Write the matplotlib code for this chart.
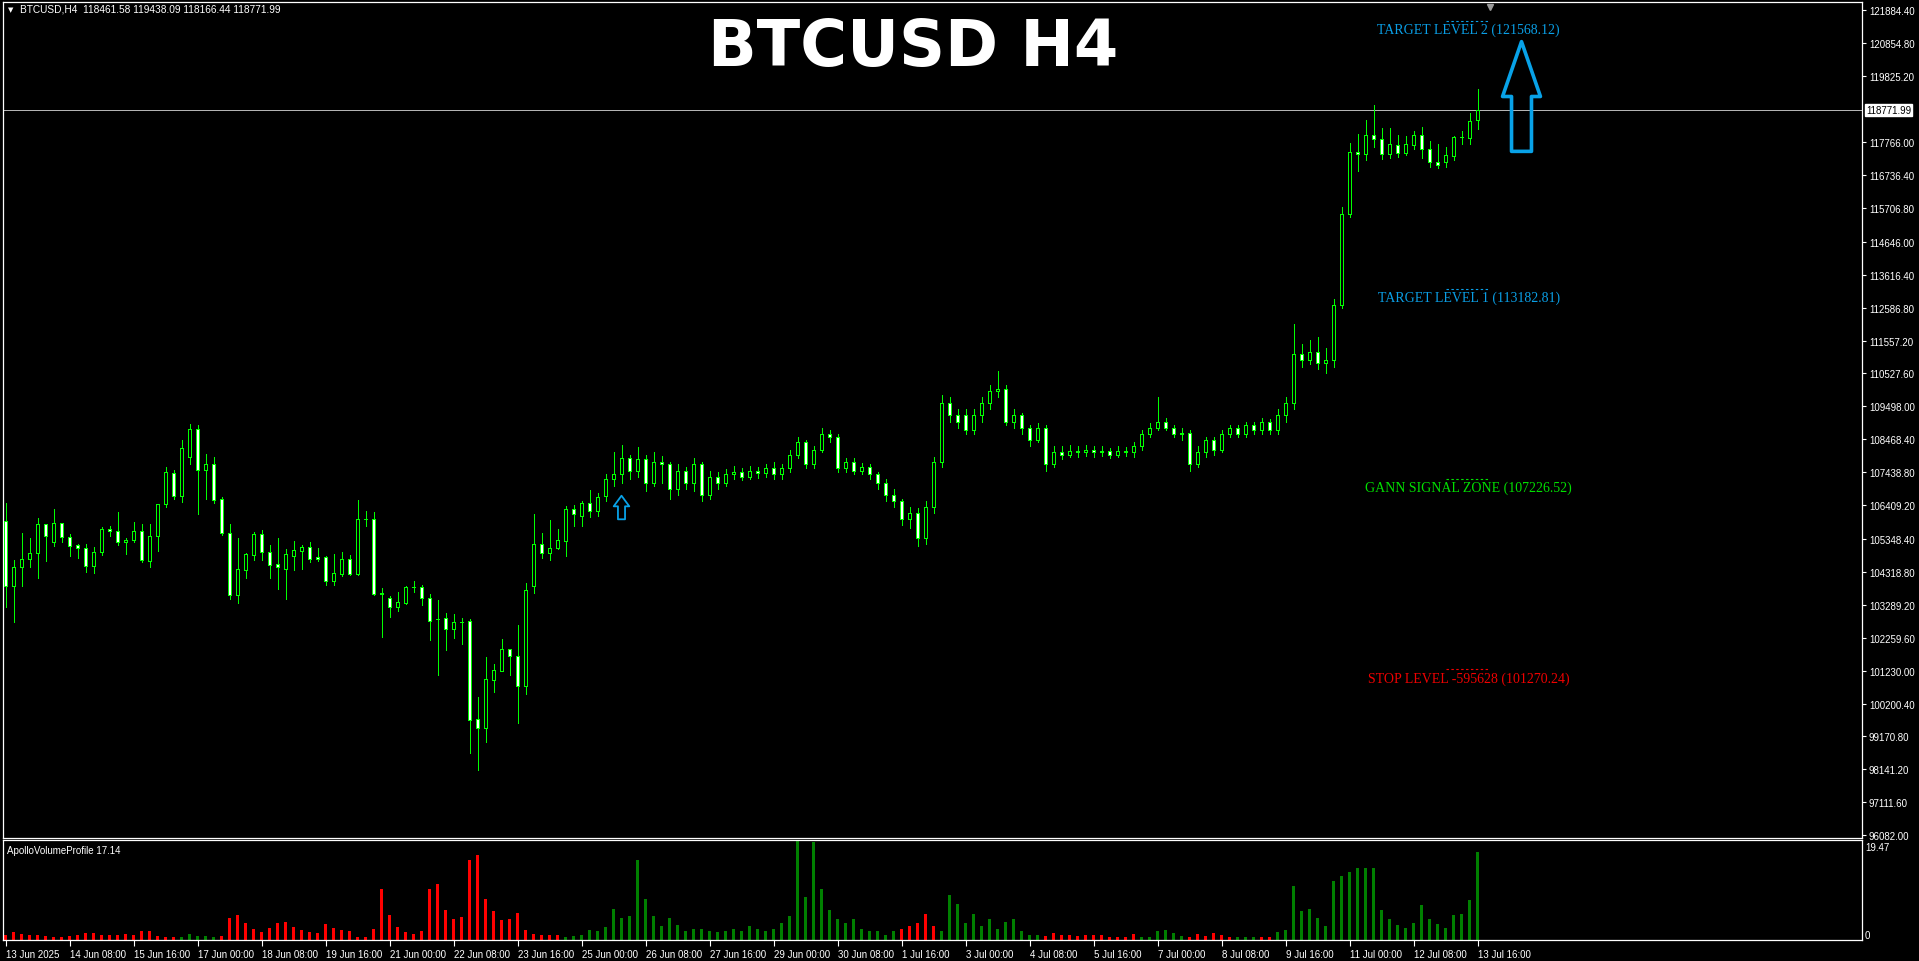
import matplotlib
matplotlib.use("Agg")
import matplotlib.pyplot as plt
from matplotlib.path import Path
from matplotlib.transforms import blended_transform_factory, ScaledTranslation
import numpy as np

W, H, DPI = 1919, 962, 100

# ---------------- data (H4 bars, 13 Jun 2025 00:00 .. 13 Jul 2025 16:00) ----------------
opens = [105916, 103863, 104457, 104738, 104895, 105833, 105239, 105864, 105426, 105155,
         105082, 104509, 104926, 105676, 105603, 105239, 105332, 105603, 104665, 105447,
         106458, 107400, 106698, 107900, 108800, 107500, 107700, 106593, 105551, 103602,
         104384, 104843, 105499, 104957, 104551, 104405, 104822, 104978, 105113, 104770,
         104770, 104019, 104248, 104717, 104248, 105989, 105989, 103644, 103498, 103227,
         103342, 103832, 103832, 103487, 102841, 102862, 102539, 102758, 102768, 99704,
         99443, 100944, 101226, 101892, 101695, 100736, 103883, 105207, 104915, 105061,
         105290, 106302, 106072, 106468, 106229, 106688, 107223, 107376, 107874, 107491,
         107836, 107108, 107759, 107683, 106917, 107491, 107108, 107683, 106726, 107300,
         107108, 107376, 107453, 107300, 107491, 107415, 107568, 107376, 107568, 107989,
         108372, 107683, 108142, 108640, 108525, 107568, 107759, 107491, 107606, 107376,
         107108, 106726, 106535, 105962, 106153, 105388, 106344, 107759, 109597, 109214,
         109214, 108754, 109214, 109597, 109979, 110056, 109023, 109214, 108831, 108449,
         108831, 107683, 108065, 107989, 108104, 108065, 108142, 108065, 108104, 107989,
         108104, 108065, 108257, 108640, 108831, 109023, 108831, 108640, 108680, 107683,
         108065, 108449, 108142, 108640, 108831, 108640, 108908, 108754, 109023, 108754,
         109214, 109597, 111128, 110937, 111204, 110860, 110937, 112659, 115530, 117444,
         117403, 117997, 117872, 117403, 117663, 117434, 117663, 117976, 117559, 117150,
         117150, 117330, 117913, 117903, 118461.58]
highs = [106469, 104686, 105530, 105364, 106020, 105833, 106302, 105864, 105499, 105186,
         105186, 105113, 105728, 105760, 106208, 105364, 105895, 105812, 105833, 106458,
         107600, 107500, 108450, 108950, 108900, 108000, 107900, 106677, 105812, 105395,
         104905, 105572, 105624, 105155, 105364, 105030, 105291, 105155, 105239, 105082,
         104801, 104874, 104926, 104842, 106562, 106229, 106197, 103811, 103571, 103675,
         103884, 104029, 103904, 103623, 103435, 103029, 102998, 102862, 102841, 100392,
         101642, 101434, 102216, 101892, 102664, 103987, 106124, 105551, 105937, 105655,
         106385, 106406, 106531, 106875, 106781, 107376, 108065, 108295, 107989, 108219,
         107989, 108065, 107951, 107759, 107683, 107606, 107874, 107759, 107491, 107453,
         107530, 107644, 107568, 107644, 107606, 107683, 107759, 107683, 108142, 108525,
         108449, 108257, 108831, 108754, 108640, 107874, 107874, 107720, 107683, 107453,
         107223, 106917, 106611, 106344, 106305, 106535, 107912, 109865, 109788, 109405,
         109405, 109405, 109788, 110171, 110592, 110171, 109405, 109290, 108908, 108984,
         108908, 108257, 108257, 108295, 108257, 108295, 108257, 108257, 108180, 108257,
         108219, 108372, 108754, 108984, 109788, 109137, 108908, 108831, 108754, 108257,
         108525, 108525, 108754, 108908, 108908, 109023, 109023, 109137, 109099, 109405,
         109788, 112085, 111434, 111588, 111664, 111319, 112850, 115721, 117750, 118018,
         118445, 118914, 118195, 118195, 117976, 117955, 118101, 118226, 117788, 117694,
         117601, 117945, 118101, 118664, 119438.09]
lows = [103227, 102737, 103863, 104457, 104113, 104665, 105134, 105239, 104821, 104748,
        104321, 104279, 104842, 105447, 105155, 104874, 105239, 104613, 104478, 104978,
        106350, 106614, 106510, 107700, 106124, 106594, 106468, 105468, 103467, 103342,
        104123, 104686, 104686, 104123, 103779, 103467, 104384, 104405, 104613, 104665,
        103904, 103904, 104175, 104217, 104217, 105760, 103592, 102289, 102914, 103092,
        103310, 103675, 103279, 102184, 101090, 101882, 102247, 102059, 98651, 98130,
        99006, 100569, 101226, 101090, 99589, 100496, 103654, 104749, 104686, 105030,
        104822, 105760, 105760, 106041, 106072, 106535, 106994, 107108, 107223, 107300,
        106841, 106994, 107108, 106611, 106726, 106917, 106841, 106535, 106611, 106917,
        106994, 107223, 107185, 107223, 107261, 107300, 107223, 107223, 107453, 107874,
        107568, 107568, 108065, 108372, 107453, 107453, 107376, 107376, 107223, 106917,
        106535, 106344, 105771, 105694, 105120, 105197, 106153, 107606, 109023, 108831,
        108640, 108640, 109023, 109405, 109788, 108908, 108831, 108640, 108257, 108372,
        107491, 107606, 107836, 107912, 107912, 107951, 107912, 107951, 107874, 107912,
        107951, 107912, 108142, 108525, 108754, 108754, 108525, 108449, 107491, 107606,
        107912, 107989, 108065, 108525, 108525, 108525, 108640, 108640, 108640, 108640,
        109023, 109405, 110745, 110822, 110669, 110554, 110745, 112583, 115415, 116870,
        117200, 117622, 117250, 117278, 117300, 117350, 117550, 117278, 117000, 116950,
        117000, 117200, 117694, 117694, 118166.44]
closes = [103863, 104457, 104738, 104895, 105833, 105447, 105864, 105426, 105134, 105082,
          104509, 104926, 105676, 105603, 105239, 105332, 105603, 104697, 105447, 106458,
          107450, 106698, 108200, 108800, 107500, 107700, 106572, 105551, 103602, 104405,
          104874, 105499, 104947, 104540, 104457, 104874, 104999, 105113, 104738, 104738,
          104019, 104269, 104717, 104248, 105989, 105980, 103633, 103633, 103227, 103362,
          103832, 103840, 103487, 102789, 102830, 102539, 102737, 102750, 99693, 99443,
          100965, 101236, 101892, 101695, 100736, 103737, 105207, 104915, 105082, 105311,
          106302, 106135, 106468, 106229, 106677, 107223, 107376, 107874, 107491, 107836,
          107108, 107759, 107683, 106917, 107491, 107108, 107683, 106726, 107300, 107108,
          107376, 107453, 107300, 107491, 107415, 107568, 107376, 107568, 107989, 108372,
          107683, 108142, 108640, 108525, 107568, 107759, 107491, 107606, 107376, 107108,
          106726, 106535, 105962, 106153, 105388, 106344, 107759, 109597, 109214, 109023,
          108754, 109214, 109597, 109979, 110056, 109023, 109214, 108831, 108449, 108831,
          107683, 108065, 107989, 108104, 108065, 108142, 108065, 108104, 107989, 108104,
          108065, 108257, 108640, 108831, 109023, 108831, 108640, 108680, 107683, 108065,
          108449, 108142, 108640, 108831, 108640, 108908, 108754, 109023, 108754, 109214,
          109597, 111128, 110937, 111204, 110860, 110937, 112659, 115530, 117444, 117403,
          117997, 117872, 117403, 117715, 117434, 117715, 117976, 117559, 117150, 117050,
          117351, 117913, 117920, 118434, 118771.99]

volumes = [1.0, 1.6, 1.2, 1.0, 1.0, 0.8, 0.6, 0.6, 0.8, 1.0,
           1.4, 1.4, 1.0, 1.0, 1.0, 1.2, 1.0, 1.8, 1.8, 0.8,
           0.6, 0.6, 0.6, 1.2, 0.8, 0.8, 0.6, 0.8, 4.2, 4.8,
           3.4, 2.2, 1.6, 2.4, 3.4, 3.6, 2.6, 2.0, 1.6, 1.4,
           3.2, 2.4, 2.0, 1.8, 0.6, 0.6, 2.2, 10.0, 4.8, 2.6,
           1.6, 1.2, 1.8, 10.0, 11.0, 5.8, 4.0, 4.4, 15.5, 16.5,
           8.0, 5.6, 3.8, 4.0, 5.2, 2.0, 1.2, 1.0, 1.0, 1.0,
           0.6, 0.8, 1.0, 2.0, 1.8, 2.6, 6.0, 4.2, 4.6, 15.5,
           8.0, 4.6, 2.8, 4.2, 3.0, 1.8, 2.2, 2.2, 1.7, 1.5,
           1.7, 2.2, 1.7, 2.7, 2.2, 1.7, 2.2, 3.4, 4.6, 19.47,
           8.3, 19.0, 10.0, 5.9, 4.1, 3.4, 4.1, 2.2, 1.7, 1.7,
           1.0, 1.7, 2.2, 2.7, 3.4, 5.1, 2.7, 1.7, 8.8, 7.1,
           3.4, 5.1, 2.7, 4.1, 2.2, 3.6, 4.0, 1.8, 1.0, 1.0,
           0.8, 1.4, 1.0, 1.0, 0.8, 1.0, 1.0, 1.0, 0.6, 0.6,
           0.6, 1.2, 0.6, 0.6, 1.8, 2.0, 1.4, 0.8, 0.6, 1.2,
           0.8, 1.4, 1.0, 0.6, 0.6, 0.6, 0.6, 0.6, 0.6, 1.6,
           2.0, 10.6, 5.6, 6.0, 4.2, 2.8, 11.4, 12.4, 13.2, 14.0,
           14.0, 14.0, 5.8, 4.0, 3.0, 2.4, 3.4, 6.8, 4.0, 3.2,
           2.4, 4.8, 5.0, 7.8, 17.14]
# R = red (selling) volume bar, G = green (buying) volume bar
vol_side = ("RRRRRRRRRRRRRRRRRRRRRR" "GGGGG"
            "RRRRRRRRRRRRRRRRRRRRRRRRRRRRRRRRRRRRRRRRRRR"
            "GGGGGGGGGGGGGGGGGGGGGGGGGGGGGGGGGGGGGGGGGG"
            "RRRRR" "GGGGGGGGGGGGG" "RRRRRRRRRRRR" "GGGGGG" "RRRRRR"
            "GGG" "RR" "GGGGGGGGGGGGGGGGGGGGGGGGGG")
vol_scale_max = 19.47
vol_indicator_value = 17.14

x_labels = ["13 Jun 2025", "14 Jun 08:00", "15 Jun 16:00", "17 Jun 00:00", "18 Jun 08:00",
            "19 Jun 16:00", "21 Jun 00:00", "22 Jun 08:00", "23 Jun 16:00", "25 Jun 00:00",
            "26 Jun 08:00", "27 Jun 16:00", "29 Jun 00:00", "30 Jun 08:00", "1 Jul 16:00",
            "3 Jul 00:00", "4 Jul 08:00", "5 Jul 16:00", "7 Jul 00:00", "8 Jul 08:00",
            "9 Jul 16:00", "11 Jul 00:00", "12 Jul 08:00", "13 Jul 16:00"]
x_label_bars = [0, 8, 16, 24, 32, 40, 48, 56, 64, 72, 80, 88, 96, 104, 112, 120,
                128, 136, 144, 152, 160, 168, 176, 184]

price_ticks = [121884.40, 120854.80, 119825.20, 117766.00, 116736.40, 115706.80,
               114646.00, 113616.40, 112586.80, 111557.20, 110527.60, 109498.00,
               108468.40, 107438.80, 106409.20, 105348.40, 104318.80, 103289.20,
               102259.60, 101230.00, 100200.40, 99170.80, 98141.20, 97111.60, 96082.00]
current_price = 118771.99

level_names = ["TARGET LEVEL 2", "TARGET LEVEL 1", "GANN SIGNAL ZONE", "STOP LEVEL -595628"]
level_values = [121568.12, 113182.81, 107226.52, 101270.24]
level_colors = ["#0A9FE6", "#0A9FE6", "#00E000", "#F00000"]

# signal arrows: (bar index, price at arrow centre)
big_arrow_bar, big_arrow_price = 189.4, 119195
small_arrow_bar, small_arrow_price = 76.9, 106343

symbol_header = "BTCUSD,H4  118461.58 119438.09 118166.44 118771.99"
title = "BTCUSD H4"

# ---------------- layout ----------------
def fx(x):
    return x / W

def fy(y):
    return 1 - y / H

fig = plt.figure(figsize=(W / DPI, H / DPI), dpi=DPI, facecolor="black")
AX_L, AX_R = 3, 1862
ax = fig.add_axes([fx(AX_L), fy(839), fx(AX_R - AX_L), (839 - 3) / H], facecolor="black")
axv = fig.add_axes([fx(AX_L), fy(941), fx(AX_R - AX_L), (941 - 841) / H], facecolor="black")

px_per_bar = 8.0
bar0_px = 5.5
xlim = ((AX_L - bar0_px) / px_per_bar, (AX_R - bar0_px) / px_per_bar)

SMALL = "Liberation Sans"
n = len(closes)
x = np.arange(n)
o = np.array(opens, float); h = np.array(highs, float)
l = np.array(lows, float); c = np.array(closes, float)

LIME = "#00FF00"
ax.vlines(x, l, h, colors=LIME, linewidth=0.72, antialiased=False, zorder=2)
bottoms = np.minimum(o, c)
heights = np.abs(c - o)
faces = ["black" if cc >= oo else "white" for oo, cc in zip(o, c)]
ax.bar(x, heights, bottom=bottoms, width=0.42, color=faces, edgecolor=LIME,
       linewidth=0.72, antialiased=False, zorder=3)

ax.set_xlim(*xlim)
ax.set_ylim(95993, 122150)

# current price line + label
ax.axhline(current_price, color="#B4B4B4", linewidth=0.72, zorder=1)
tr_r = blended_transform_factory(ax.transAxes, ax.transData)
ax.text(1.0, current_price, f"{current_price:.2f}", transform=tr_r + ScaledTranslation(4 / DPI, 0, fig.dpi_scale_trans),
        ha="left", va="center", fontsize=7, family=SMALL, color="black",
        bbox=dict(boxstyle="square,pad=0.12", facecolor="white", edgecolor="white"))

# chart shift marker
tr_top = blended_transform_factory(ax.transData, ax.transAxes)
ax.plot([185.6], [0.994], transform=tr_top, marker="v", color="#9A9A9A", markersize=4.5, clip_on=False)

# price axis
ax.yaxis.tick_right()
ax.set_yticks(price_ticks)
ax.set_yticklabels([f"{v:.2f}" for v in price_ticks])
ax.tick_params(axis="y", colors="white", labelcolor="white", length=3, width=0.8,
               pad=2, labelsize=7, direction="out")
for t in ax.get_yticklabels():
    t.set_family(SMALL)
ax.set_xticks([])
for s in ax.spines.values():
    s.set_color("white"); s.set_linewidth(0.9)

# level lines and labels
for name, val, col in zip(level_names, level_values, level_colors):
    ax.plot([180.0, 185.6], [val, val], color=col, linewidth=0.8, linestyle=(0, (2.2, 2.2)), zorder=4)
    ax.annotate(f"{name} ({val:.2f})", xy=(182.9, val), xytext=(0, -6.3), textcoords="offset points",
                ha="center", va="center", color=col, fontsize=10, family="Liberation Serif", zorder=5)

# arrows as outlined markers
arrow_verts = [(0, 0.5), (0.1727, 0.0), (0.0909, 0.0), (0.0909, -0.5), (-0.0909, -0.5),
               (-0.0909, 0.0), (-0.1727, 0.0), (0, 0.5)]
arrow_path = Path(arrow_verts, [Path.MOVETO] + [Path.LINETO] * 6 + [Path.CLOSEPOLY])
ax.plot([big_arrow_bar], [big_arrow_price], marker=arrow_path, markersize=79, markerfacecolor="none",
        markeredgecolor="#08A2E8", markeredgewidth=2.6, linestyle="none", zorder=6)
small_verts = [(0, 0.5), (0.33, 0.05), (0.15, 0.05), (0.15, -0.5), (-0.15, -0.5),
               (-0.15, 0.05), (-0.33, 0.05), (0, 0.5)]
small_path = Path(small_verts, [Path.MOVETO] + [Path.LINETO] * 6 + [Path.CLOSEPOLY])
ax.plot([small_arrow_bar], [small_arrow_price], marker=small_path, markersize=17, markerfacecolor="none",
        markeredgecolor="#08A2E8", markeredgewidth=1.3, linestyle="none", zorder=6)

# ---------------- volume panel ----------------
vcols = ["#FF0000" if s == "R" else "#008000" for s in vol_side]
axv.bar(x, volumes, width=0.375, color=vcols, linewidth=0, antialiased=False)
axv.set_xlim(*xlim)
axv.set_ylim(0, vol_scale_max)
axv.set_yticks([])
for s in axv.spines.values():
    s.set_color("white"); s.set_linewidth(0.9)
tr_v = blended_transform_factory(axv.transAxes, axv.transData)
axv.text(1.0, vol_scale_max, f"{vol_scale_max:.2f}", transform=tr_v + ScaledTranslation(3 / DPI, -2 / DPI, fig.dpi_scale_trans),
         ha="left", va="top", fontsize=7, family=SMALL, color="white")
axv.text(1.0, 0, "0", transform=tr_v + ScaledTranslation(3 / DPI, 0, fig.dpi_scale_trans),
         ha="left", va="bottom", fontsize=7, family=SMALL, color="white")
axv.set_xticks(x_label_bars)
axv.set_xticklabels(x_labels)
axv.tick_params(axis="x", colors="white", labelcolor="white", length=4, width=0.8, pad=2.5,
                labelsize=7, direction="out")
off = ScaledTranslation(1 / DPI, 0, fig.dpi_scale_trans)
for t in axv.get_xticklabels():
    t.set_horizontalalignment("left")
    t.set_family(SMALL)
    t.set_transform(t.get_transform() + off)

fig.text(fx(7), fy(851), f"ApolloVolumeProfile {vol_indicator_value:.2f}", ha="left", va="center",
         fontsize=7, family=SMALL, color="white")

# ---------------- header and title ----------------
fig.text(fx(8), fy(10), "\u25BC", ha="left", va="center", fontsize=5, color="white", family="DejaVu Sans")
fig.text(fx(20), fy(10), symbol_header, ha="left", va="center", fontsize=7.3, family=SMALL, color="white")
fig.text(fx(913), fy(48), title, ha="center", va="center", fontsize=46, fontweight="bold",
         family="DejaVu Sans", color="white")

fig.savefig("out.png", dpi=DPI, facecolor="black")
